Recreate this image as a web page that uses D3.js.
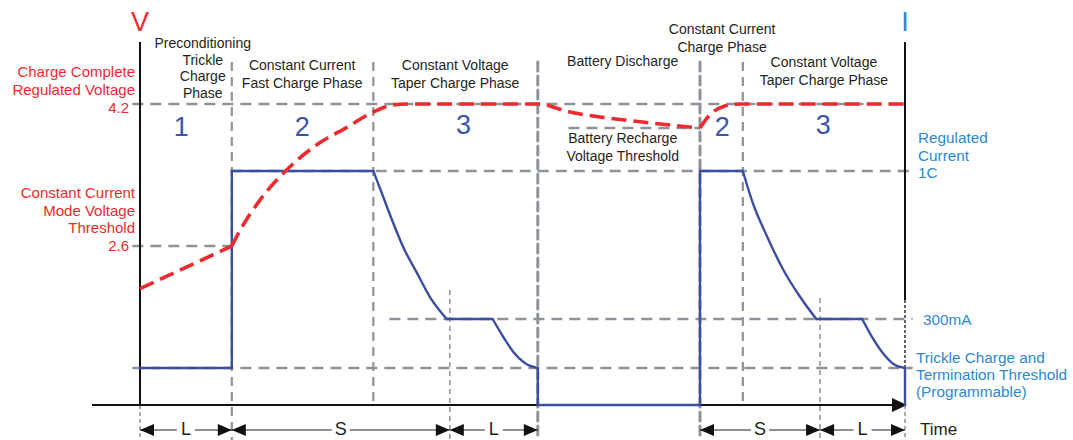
<!DOCTYPE html>
<html>
<head>
<meta charset="utf-8">
<script src="https://cdn.jsdelivr.net/npm/d3@7"></script>
<style>
  body { margin: 0; background: #fff; }
  text { font-family: "Liberation Sans", Arial, sans-serif; }
</style>
</head>
<body>
<script>
// time in % of the whole cycle, voltage in V, current in mA
var phaseTimes = [12.0, 30.5, 40.5, 52.0, 73.2, 78.8, 88.9, 100];

var voltagePrecharge = [[0, 2.12], [12.0, 2.6]];
var voltageCharge = [
  [12.0, 2.6], [13.1, 2.78], [15.7, 3.12], [19.2, 3.46], [23.1, 3.74],
  [27.1, 3.94], [30.5, 4.11], [33.1, 4.19], [35, 4.2], [52.0, 4.2],
  [56.2, 4.11], [65.4, 4.0], [73.2, 3.93]
];
var voltageRecharge = [
  [73.2, 3.93], [74.5, 4.08], [76.2, 4.17], [78.4, 4.2], [100, 4.2]
];

var currentTrace = [
  [0, 50], [12.0, 50], [12.0, 1000], [30.5, 1000],
  [31.8, 877], [33.1, 754], [34.4, 641], [36.2, 518], [37.9, 404], [40.1, 300],
  [46.1, 300], [47.5, 208], [48.8, 132], [50.3, 76], [52.0, 50],
  [52.0, 0], [73.2, 0], [73.2, 1000], [78.8, 1000],
  [80.1, 849], [82.0, 688], [84.1, 532], [86.3, 404], [88.4, 300],
  [94.4, 300], [95.7, 208], [97.1, 127], [98.7, 65], [100, 50], [100, 0]
];

// horizontal guide levels: [value, fromTime, toTime]
var voltageGuides = [[4.2, -1, 100], [2.6, -1, 12.0], [3.93, 56.0, 73.2]];
var currentGuides = [[1000, 12.0, 101], [300, 32.6, 101], [50, -1, 101]];

var spans = [["L", 0, 12.0], ["S", 12.0, 40.5], ["L", 40.5, 52.0], ["S", 73.2, 88.9], ["L", 88.9, 100]];

var phaseNumbers = [["1", 5.4], ["2", 21.2], ["3", 42.3], ["2", 76.1], ["3", 89.3]];

var phaseLabels = [
  [["Preconditioning", "Trickle", "Charge", "Phase"], 8.2, 43],
  [["Constant Current", "Fast Charge Phase"], 21.2, 65],
  [["Constant Voltage", "Taper Charge Phase"], 41.2, 65],
  [["Battery Discharge"], 63.1, 61],
  [["Battery Recharge", "Voltage Threshold"], 63.1, 138],
  [["Constant Current", "Charge Phase"], 76.1, 29],
  [["Constant Voltage", "Taper Charge Phase"], 89.4, 62]
];

var width = 1073, height = 440;
var red = "#ec2a30", blue = "#3b4fa2", lightBlue = "#2d88cd", grey = "#8e9299", ink = "#231f20";

var svg = d3.select("body").append("svg")
    .attr("width", width)
    .attr("height", height);

var x = d3.scaleLinear().domain([0, 100]).range([140, 905]);
var yV = d3.scaleLinear().domain([2.6, 4.2]).range([246, 104]);
var yI = d3.scaleLinear().domain([0, 50, 300, 1000]).range([405, 368, 319, 171]);
var topY = 62, axisY = yI(0), bottomY = 440;

// horizontal dashed guides
svg.selectAll(".vguide").data(voltageGuides).enter().append("line")
    .attr("x1", function(d) { return x(d[1]); })
    .attr("x2", function(d) { return x(d[2]); })
    .attr("y1", function(d) { return yV(d[0]); })
    .attr("y2", function(d) { return yV(d[0]); })
    .attr("stroke", grey).attr("stroke-width", 2.4).attr("stroke-dasharray", "11,7");
svg.selectAll(".iguide").data(currentGuides).enter().append("line")
    .attr("x1", function(d) { return x(d[1]); })
    .attr("x2", function(d) { return x(d[2]); })
    .attr("y1", function(d) { return yI(d[0]); })
    .attr("y2", function(d) { return yI(d[0]); })
    .attr("stroke", grey).attr("stroke-width", 2.4).attr("stroke-dasharray", "11,7");

// vertical phase boundaries
var vStyles = [
  { t: phaseTimes[0], y1: topY, y2: bottomY, w: 2.2, dash: "9,6" },
  { t: phaseTimes[1], y1: topY, y2: axisY, w: 2.2, dash: "9,6" },
  { t: phaseTimes[2], y1: 290, y2: bottomY, w: 1.5, dash: "5,4" },
  { t: phaseTimes[3], y1: topY, y2: bottomY, w: 3, dash: "9,5" },
  { t: phaseTimes[4], y1: topY, y2: bottomY, w: 3, dash: "9,5" },
  { t: phaseTimes[5], y1: topY, y2: axisY, w: 2.2, dash: "9,6" },
  { t: phaseTimes[6], y1: 298, y2: bottomY, w: 1.5, dash: "5,4" },
  { t: 0, y1: axisY, y2: bottomY, w: 1.5, dash: "4,3" },
  { t: phaseTimes[7], y1: axisY, y2: bottomY, w: 1.5, dash: "4,3" }
];
svg.selectAll(".vline").data(vStyles).enter().append("line")
    .attr("x1", function(d) { return x(d.t); })
    .attr("x2", function(d) { return x(d.t); })
    .attr("y1", function(d) { return d.y1; })
    .attr("y2", function(d) { return d.y2; })
    .attr("stroke", grey)
    .attr("stroke-width", function(d) { return d.w; })
    .attr("stroke-dasharray", function(d) { return d.dash; })
    .attr("stroke-linecap", function(d) { return d.w >= 3 ? "round" : "butt"; });

// axes
svg.append("line").attr("x1", x(0)).attr("x2", x(0)).attr("y1", 42).attr("y2", axisY)
    .attr("stroke", "#111").attr("stroke-width", 2);
svg.append("line").attr("x1", x(100)).attr("x2", x(100)).attr("y1", 42).attr("y2", 300)
    .attr("stroke", "#111").attr("stroke-width", 2);
svg.append("line").attr("x1", x(100)).attr("x2", x(100)).attr("y1", 300).attr("y2", axisY)
    .attr("stroke", "#333").attr("stroke-width", 1.5).attr("stroke-dasharray", "3,2");
svg.append("line").attr("x1", 92).attr("x2", x(100) - 8).attr("y1", axisY).attr("y2", axisY)
    .attr("stroke", "#111").attr("stroke-width", 2);
svg.append("path")
    .attr("d", "M" + (x(100) + 2) + "," + axisY + "l-15,-7l0,14z")
    .attr("fill", "#111");

// current curve: split into flat / vertical / tapering runs
function edgeType(a, b) {
  if (a[0] === b[0]) return "v";
  if (a[1] === b[1]) return "h";
  return "s";
}
var runs = [];
for (var i = 1; i < currentTrace.length; i++) {
  var type = edgeType(currentTrace[i - 1], currentTrace[i]);
  var last = runs[runs.length - 1];
  if (last && last.type === type) {
    last.pts.push(currentTrace[i]);
  } else {
    runs.push({ type: type, pts: [currentTrace[i - 1], currentTrace[i]] });
  }
}
var stepLine = d3.line()
    .x(function(d) { return x(d[0]); })
    .y(function(d) { return yI(d[1]); });
var taperLine = d3.line()
    .x(function(d) { return x(d[0]); })
    .y(function(d) { return yI(d[1]); })
    .curve(d3.curveMonotoneX);
svg.selectAll(".run").data(runs).enter().append("path")
    .attr("d", function(d) { return d.type === "s" ? taperLine(d.pts) : stepLine(d.pts); })
    .attr("fill", "none").attr("stroke", blue).attr("stroke-width", 2.4)
    .attr("stroke-linecap", "round");

// voltage curve
var voltageLine = d3.line()
    .x(function(d) { return x(d[0]); })
    .y(function(d) { return yV(d[1]); })
    .curve(d3.curveMonotoneX);
[voltagePrecharge, voltageCharge, voltageRecharge].forEach(function(seg) {
  svg.append("path").datum(seg)
      .attr("d", voltageLine)
      .attr("fill", "none").attr("stroke", red).attr("stroke-width", 3.6)
      .attr("stroke-dasharray", "15,7");
});

// phase labels
phaseLabels.forEach(function(p) {
  var t = svg.append("text")
      .attr("x", x(p[1])).attr("y", p[2])
      .attr("text-anchor", "middle").attr("fill", ink)
      .style("font-size", "14px");
  p[0].forEach(function(line, i) {
    t.append("tspan").attr("x", x(p[1])).attr("dy", i === 0 ? "0.35em" : (p[0].length > 2 ? 16.7 : 18)).text(line);
  });
});

svg.selectAll(".num").data(phaseNumbers).enter().append("text")
    .attr("x", function(d) { return x(d[1]); })
    .attr("y", function(d, i) { return i === 2 || i === 4 ? 125 : 127; })
    .attr("dy", "0.35em")
    .attr("text-anchor", "middle").attr("fill", "#3c55a8")
    .style("font-size", "27px")
    .text(function(d) { return d[0]; });

// axis letters
svg.append("text").attr("x", x(0)).attr("y", 22).attr("dy", "0.35em").attr("text-anchor", "middle")
    .attr("fill", red).style("font-size", "27px").text("V");
svg.append("text").attr("x", x(100)).attr("y", 22).attr("dy", "0.35em").attr("text-anchor", "middle")
    .attr("fill", lightBlue).style("font-size", "27px").text("I");

// side labels
function multi(lines, xPos, y0, step, anchor, color, size) {
  var t = svg.append("text").attr("text-anchor", anchor).attr("fill", color).style("font-size", size);
  lines.forEach(function(line, i) {
    t.append("tspan").attr("x", xPos).attr("y", y0 + i * step).attr("dy", "0.35em").text(line);
  });
}
multi(["Charge Complete", "Regulated Voltage"], 135, 72, 18, "end", red, "15px");
multi(["4.2"], 129, 108, 0, "end", red, "15px");
multi(["Constant Current", "Mode Voltage", "Threshold"], 135, 193, 17.5, "end", red, "15px");
multi(["2.6"], 129, 246, 0, "end", red, "15px");

multi(["Regulated", "Current", "1C"], 918, 138, 17.5, "start", lightBlue, "15.3px");
multi(["300mA"], 923, 320, 0, "start", lightBlue, "15.3px");
multi(["Trickle Charge and", "Termination Threshold", "(Programmable)"], 916, 358, 17, "start", lightBlue, "15.3px");
multi(["Time"], 920, 429, 0, "start", ink, "17px");

// duration arrows
var spanY = 430;
var sp = svg.selectAll(".span").data(spans).enter().append("g");
sp.append("line")
    .attr("x1", function(d) { return x(d[1]); })
    .attr("x2", function(d) { return x(d[2]); })
    .attr("y1", spanY).attr("y2", spanY)
    .attr("stroke", "#222").attr("stroke-width", 1);
sp.append("path")
    .attr("d", function(d) { return "M" + x(d[1]) + "," + spanY + "l14,-6l0,12z"; })
    .attr("fill", "#111");
sp.append("path")
    .attr("d", function(d) { return "M" + x(d[2]) + "," + spanY + "l-14,-6l0,12z"; })
    .attr("fill", "#111");
sp.append("rect")
    .attr("x", function(d) { return (x(d[1]) + x(d[2])) / 2 - 9; })
    .attr("y", spanY - 10).attr("width", 18).attr("height", 20)
    .attr("fill", "#fff");
sp.append("text")
    .attr("x", function(d) { return (x(d[1]) + x(d[2])) / 2; })
    .attr("y", spanY - 1).attr("dy", "0.36em")
    .attr("text-anchor", "middle").attr("fill", ink)
    .style("font-size", "18px")
    .text(function(d) { return d[0]; });
</script>
</body>
</html>
